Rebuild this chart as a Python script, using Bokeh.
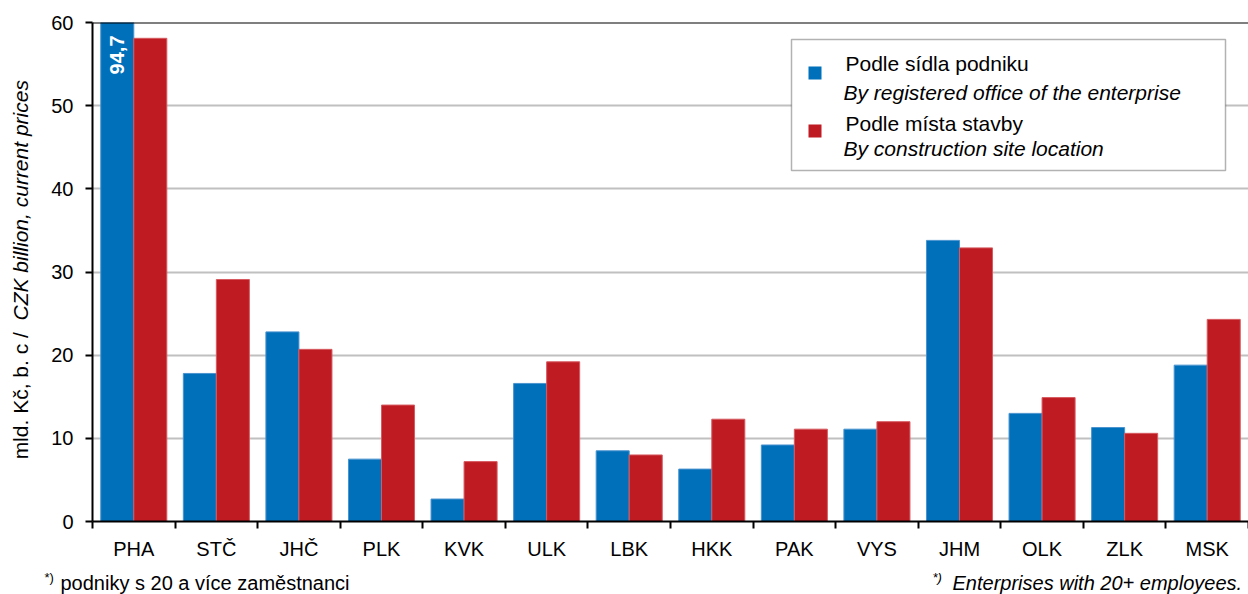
import math
from bokeh.plotting import figure
from bokeh.layouts import row, column
from bokeh.models import Range1d, FixedTicker, Label, Span, BoxAnnotation
from bokeh.embed import file_html
from bokeh.resources import INLINE

# ---- data ----
regions = ["PHA", "STČ", "JHČ", "PLK", "KVK", "ULK", "LBK", "HKK", "PAK", "VYS", "JHM", "OLK", "ZLK", "MSK"]
by_office = [94.7, 17.8, 22.8, 7.5, 2.7, 16.6, 8.5, 6.3, 9.2, 11.1, 33.8, 13.0, 11.3, 18.8]
by_site = [58.1, 29.1, 20.7, 14.0, 7.2, 19.2, 8.0, 12.3, 11.1, 12.0, 32.9, 14.9, 10.6, 24.3]
y_ticks = [0, 10, 20, 30, 40, 50, 60]
office_label_cz = "Podle sídla podniku"
office_label_en = "By registered office of the enterprise"
site_label_cz = "Podle místa stavby"
site_label_en = "By construction site location"
y_label_cz = "mld. Kč,  b. c / "
y_label_en = "CZK billion, current prices"
note_cz = "podniky s 20 a více zaměstnanci"
note_en = "Enterprises with 20+ employees."
note_mark = "*)"
pha_value_label = "94,7"

BLUE = "#0070BA"
RED = "#BE1B22"
FONT = "Liberation Sans"
FS = "20px"
FS_LEG = "21px"

n = len(regions)
idx = list(range(n))

# ---- main chart ----
p = figure(width=1200, height=564, x_range=Range1d(-0.5, n - 0.5), y_range=Range1d(0, 60),
           output_backend="svg", toolbar_location=None,
           min_border_left=44, min_border_right=0, min_border_top=22, min_border_bottom=43)
p.outline_line_color = None

p.vbar(x=[i - 0.2 for i in idx], top=by_office, width=0.4, fill_color=BLUE,
       line_color="#4A93CF", line_width=1)
p.vbar(x=[i + 0.2 for i in idx], top=by_site, width=0.4, fill_color=RED,
       line_color="#D65A60", line_width=1)

p.yaxis.ticker = FixedTicker(ticks=y_ticks)
p.yaxis.axis_line_color = "black"
p.yaxis.axis_line_width = 2
p.yaxis.major_tick_out = 7
p.yaxis.major_tick_in = 0
p.yaxis.major_tick_line_width = 2
p.yaxis.minor_tick_line_color = None
p.yaxis.major_label_standoff = 12
p.yaxis.major_label_text_font = FONT
p.yaxis.major_label_text_font_size = FS
p.yaxis.major_label_text_color = "black"

p.xaxis.ticker = FixedTicker(ticks=idx, minor_ticks=[i - 0.5 for i in range(n + 1)])
p.xaxis.major_label_overrides = {i: r for i, r in enumerate(regions)}
p.xaxis.major_tick_line_color = None
p.xaxis.major_tick_out = 0
p.xaxis.major_tick_in = 0
p.xaxis.minor_tick_out = 7
p.xaxis.minor_tick_in = 0
p.xaxis.minor_tick_line_color = "black"
p.xaxis.minor_tick_line_width = 2
p.xaxis.axis_line_color = "black"
p.xaxis.axis_line_width = 2
p.xaxis.major_label_standoff = 9
p.xaxis.major_label_text_font = FONT
p.xaxis.major_label_text_font_size = FS
p.xaxis.major_label_text_color = "black"

p.xgrid.visible = False
p.ygrid.ticker = FixedTicker(ticks=y_ticks[1:-1])
p.ygrid.grid_line_color = "#C0C0C0"
p.ygrid.grid_line_width = 2

p.add_layout(Span(location=60, dimension="width", line_color="black", line_width=2))

p.add_layout(Label(x=-0.2, y=60, y_offset=-13, text=pha_value_label, angle=math.pi / 2,
                   text_align="right", text_baseline="middle", text_color="white",
                   text_font=FONT, text_font_style="bold", text_font_size=FS))

# legend (drawn by hand: two-style labels)
def sbox(l, r, t, b, **kw):
    return BoxAnnotation(left=l, right=r, top=t, bottom=b, left_units="screen", right_units="screen",
                         top_units="screen", bottom_units="screen", level="overlay", **kw)

p.add_layout(sbox(699, 1133, 482, 351, fill_color="white", fill_alpha=1, line_color="black", line_width=1.5))
p.add_layout(sbox(716, 729, 455, 442, fill_color=BLUE, fill_alpha=1, line_color=None))
p.add_layout(sbox(716, 729, 397, 384, fill_color=RED, fill_alpha=1, line_color=None))
for txt, yy, xx, style in [(office_label_cz, 458, 753, "normal"), (office_label_en, 429, 751, "italic"),
                           (site_label_cz, 398, 753, "normal"), (site_label_en, 373, 751, "italic")]:
    p.add_layout(Label(x=xx, y=yy, x_units="screen", y_units="screen", text=txt,
                       text_align="left", text_baseline="middle", text_font=FONT,
                       text_font_style=style, text_font_size=FS_LEG, text_color="black", level="overlay"))

# ---- left strip: y axis title ----
def strip(w, h):
    f = figure(width=w, height=h, x_range=Range1d(0, 1), y_range=Range1d(0, 1),
               x_axis_type=None, y_axis_type=None, output_backend="svg", toolbar_location=None,
               min_border=0, min_border_left=0, min_border_right=0, min_border_top=0, min_border_bottom=0)
    f.outline_line_color = None
    return f

left = strip(48, 564)
left.add_layout(Label(x=20, y=201, x_units="screen", y_units="screen", text=y_label_cz,
                      angle=math.pi / 2, text_align="right", text_baseline="middle",
                      text_font=FONT, text_font_size=FS_LEG, text_color="black"))
left.add_layout(Label(x=20, y=201, x_units="screen", y_units="screen", text=y_label_en,
                      angle=math.pi / 2, text_align="left", text_baseline="middle",
                      text_font=FONT, text_font_style="italic", text_font_size=FS_LEG, text_color="black"))

# ---- bottom strip: footnotes ----
bottom = strip(1248, 30)
bottom.add_layout(Label(x=44, y=17, x_units="screen", y_units="screen", text=note_mark,
                        text_align="left", text_baseline="middle", text_font=FONT, text_font_size="13px",
                        text_color="black"))
bottom.add_layout(Label(x=60, y=12, x_units="screen", y_units="screen", text=note_cz,
                        text_align="left", text_baseline="middle", text_font=FONT, text_font_size=FS,
                        text_color="black"))
bottom.add_layout(Label(x=932, y=17, x_units="screen", y_units="screen", text=note_mark,
                        text_align="left", text_baseline="middle", text_font=FONT, text_font_style="italic",
                        text_font_size="13px", text_color="black"))
bottom.add_layout(Label(x=952, y=12, x_units="screen", y_units="screen", text=note_en,
                        text_align="left", text_baseline="middle", text_font=FONT, text_font_style="italic",
                        text_font_size=FS, text_color="black"))

layout = column(row(left, p, spacing=0), bottom, spacing=0)
open("out.html", "w").write(file_html(layout, INLINE))
